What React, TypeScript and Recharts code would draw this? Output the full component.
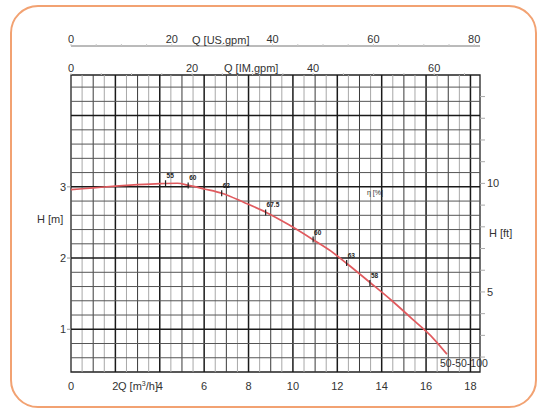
import React from "react";
import {
  ComposedChart,
  Line,
  Scatter,
  XAxis,
  YAxis,
  ReferenceLine,
  ReferenceArea,
} from "recharts";

// pump curve 50-50-100
const flowM3h = [0, 1, 2, 3, 4, 4.8, 5.3, 6, 6.8, 7.8, 8.8, 9.8, 10.9, 11.7, 12.4, 13.5, 14.5, 15.5, 16.3, 16.94];
const headM = [2.96, 2.985, 3.01, 3.03, 3.045, 3.05, 3.02, 2.97, 2.91, 2.78, 2.64, 2.47, 2.26, 2.1, 1.93, 1.65, 1.39, 1.11, 0.88, 0.65];

// efficiency marks on the curve
const effFlow = [4.26, 5.28, 6.79, 8.77, 10.91, 12.42, 13.47];
const effHead = [3.05, 3.02, 2.91, 2.64, 2.26, 1.93, 1.65];
const effLabels = ["55", "60", "62", "67.5", "60", "63", "58"];

const qTicks = [0, 2, 4, 6, 8, 10, 12, 14, 16, 18];
const hTicks = [1, 2, 3];
const ftTicks = [2, 3, 4, 5, 6, 7, 8, 9, 10, 11, 12, 13, 14];
const usTicks = [0, 5, 10, 15, 20, 25, 30, 35, 40, 45, 50, 55, 60, 65, 70, 75, 80];
const imTicks = [0, 5, 10, 15, 20, 25, 30, 35, 40, 45, 50, 55, 60, 65];

const Q_MAX = 18.43;
const H_MIN = 0.4;
const H_MAX = 4.57;
const M_TO_FT = 3.28084;
const M3H_TO_US = 4.4029;
const M3H_TO_IM = 3.6662;

const qGrid = Array.from({ length: 37 }, (_, i) => i * 0.5);
const hGrid = Array.from({ length: 21 }, (_, i) => +(0.4 + i * 0.2).toFixed(1));

const curve = flowM3h.map((q, i) => ({ flow: q, head: headM[i] }));
const effPoints = effFlow.map((q, i) => ({ flow: q, head: effHead[i], label: effLabels[i] }));

// secondary units are drawn on the m3/h and m scales
const usPos = usTicks.map((v) => v / M3H_TO_US);
const imPos = imTicks.map((v) => v / M3H_TO_IM);
const ftPos = ftTicks.map((v) => v / M_TO_FT);

const every = (factor: number, step: number) => (v: number) => {
  const u = Math.round(v * factor);
  return u % step === 0 ? String(u) : "";
};

const tickStyle = { fontSize: 11, fill: "#333" };

function EffMark(props: any) {
  const { cx, cy, payload } = props;
  if (cx == null || cy == null) return null;
  return (
    <g>
      <line x1={cx} y1={cy - 3} x2={cx} y2={cy + 3} stroke="#222" strokeWidth={1.2} />
      <text x={cx + 1} y={cy - 5} fontSize={6.5} fill="#222" fontWeight="bold">
        {payload.label}
      </text>
    </g>
  );
}

const Txt = ({ x, y, size = 11, children }: { x: number; y: number; size?: number; children: React.ReactNode }) => (
  <div
    style={{
      position: "absolute",
      left: x,
      top: y,
      transform: "translateY(-50%)",
      fontSize: size,
      lineHeight: 1,
      color: "#333",
      whiteSpace: "nowrap",
    }}
  >
    {children}
  </div>
);

export default function App() {
  return (
    <div
      style={{
        position: "absolute",
        left: 0,
        top: 0,
        width: 541,
        height: 411,
        background: "#fff",
        fontFamily: "'Liberation Sans', Arial, sans-serif",
      }}
    >
      <div
        style={{
          position: "absolute",
          left: 10,
          top: 5,
          width: 523,
          height: 399,
          border: "2px solid #f2a272",
          borderRadius: 28,
        }}
      />
      <div style={{ position: "absolute", left: 0, top: 0 }}>
        <ComposedChart width={541} height={411} data={curve} margin={{ top: 26, right: 21, bottom: 14, left: 31 }}>
          <XAxis
            xAxisId="q"
            dataKey="flow"
            type="number"
            domain={[0, Q_MAX]}
            allowDataOverflow
            ticks={qTicks}
            interval={0}
            tickLine={false}
            axisLine={false}
            tickSize={8}
            tickMargin={2}
            tick={tickStyle}
            height={25}
          />
          <XAxis
            xAxisId="im"
            dataKey="flow"
            orientation="top"
            type="number"
            domain={[0, Q_MAX]}
            allowDataOverflow
            ticks={imPos}
            interval={0}
            tickFormatter={every(M3H_TO_IM, 20)}
            axisLine={false}
            tickLine={{ stroke: "#c8c8c8" }}
            tickSize={2}
            tickMargin={1}
            tick={tickStyle}
            height={29}
          />
          <XAxis
            xAxisId="us"
            dataKey="flow"
            orientation="top"
            type="number"
            domain={[0, Q_MAX]}
            allowDataOverflow
            ticks={usPos}
            interval={0}
            tickFormatter={every(M3H_TO_US, 20)}
            axisLine={{ stroke: "#777" }}
            tickLine={{ stroke: "#c8c8c8" }}
            tickSize={2}
            tickMargin={1}
            tick={tickStyle}
            height={20}
          />
          <YAxis
            yAxisId="m"
            type="number"
            domain={[H_MIN, H_MAX]}
            allowDataOverflow
            ticks={hTicks}
            interval={0}
            axisLine={false}
            tickLine={{ stroke: "#999" }}
            tickSize={4}
            tickMargin={1}
            tick={tickStyle}
            width={40}
          />
          <YAxis
            yAxisId="ft"
            orientation="right"
            type="number"
            domain={[H_MIN, H_MAX]}
            allowDataOverflow
            ticks={ftPos}
            interval={0}
            tickFormatter={every(M_TO_FT, 5)}
            axisLine={false}
            tickLine={{ stroke: "#aaa" }}
            tickSize={5}
            tickMargin={2}
            tick={tickStyle}
            width={40}
          />

          {qGrid.slice(1).map((v, i) => {
            const k = i + 1;
            const major = k % 4 === 0;
            const whole = k % 2 === 0;
            return (
              <ReferenceLine
                key={"v" + v}
                xAxisId="q"
                yAxisId="m"
                x={v}
                stroke={major ? "#1a1a1a" : whole ? "#3a3a3a" : "#a8a8a8"}
                strokeWidth={major ? 1.5 : 1}
              />
            );
          })}
          {hGrid.slice(1).map((v) => {
            const major = Math.abs(v - Math.round(v)) < 1e-6;
            return (
              <ReferenceLine
                key={"h" + v}
                xAxisId="q"
                yAxisId="m"
                y={v}
                stroke={major ? "#1a1a1a" : "#555"}
                strokeWidth={major ? 1.5 : 1}
              />
            );
          })}
          <ReferenceArea
            xAxisId="q"
            yAxisId="m"
            x1={0}
            x2={Q_MAX}
            y1={H_MIN}
            y2={H_MAX}
            fill="none"
            fillOpacity={0}
            stroke="#222"
            strokeWidth={1.3}
            ifOverflow="visible"
          />

          <Line
            xAxisId="q"
            yAxisId="m"
            dataKey="head"
            type="monotone"
            stroke="#e05a5e"
            strokeWidth={1.7}
            dot={false}
            activeDot={false}
            isAnimationActive={false}
          />
          <Scatter
            xAxisId="q"
            yAxisId="m"
            data={effPoints}
            dataKey="head"
            shape={<EffMark />}
            isAnimationActive={false}
          />
        </ComposedChart>
      </div>

      <Txt x={192} y={40}>Q [US.gpm]</Txt>
      <Txt x={224} y={68}>Q [IM.gpm]</Txt>
      <Txt x={118} y={386}>
        Q [m<sup style={{ fontSize: 7 }}>3</sup>/h]
      </Txt>
      <Txt x={37} y={219}>H [m]</Txt>
      <Txt x={489} y={233}>H [ft]</Txt>
      <Txt x={367} y={192} size={7}>
        η [%]
      </Txt>
      <Txt x={440} y={363} size={10.5}>
        50-50-100
      </Txt>
    </div>
  );
}
